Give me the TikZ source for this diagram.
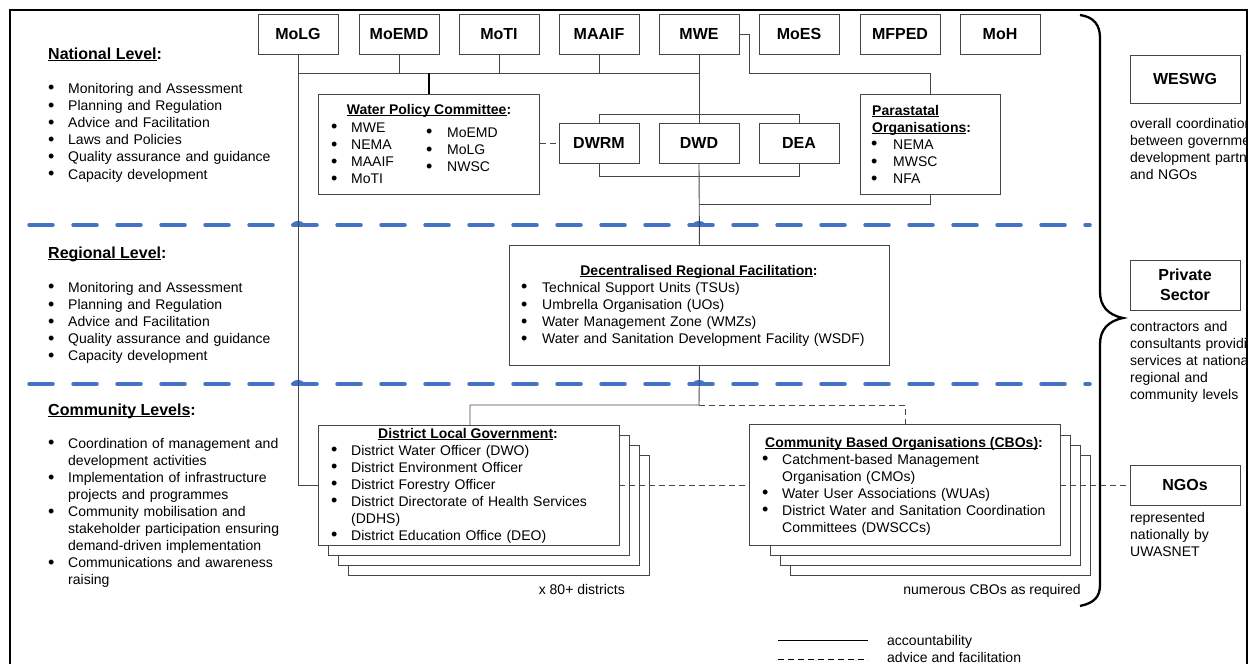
\documentclass[tikz,border=0pt]{standalone}
\usepackage{fontspec}
\setmainfont{Liberation Sans}
\definecolor{lvlblue}{RGB}{68,114,196}
\definecolor{linegray}{RGB}{70,70,70}
\newcommand{\bdot}{\raisebox{-0.9pt}{\fontsize{18}{0}\selectfont\textbullet}}
\newcommand{\bitem}[2][20pt]{\makebox[#1][l]{\bdot}#2}
\newcommand{\bcont}[2][20pt]{\hspace*{#1}#2}
\newcommand{\myul}[1]{\leavevmode\setbox0\hbox{#1}\rlap{\rule[-2.2pt]{\wd0}{1pt}}\box0}
\tikzset{
  box/.style={draw=linegray, line width=0.9pt, fill=white, inner sep=0pt},
  ministry/.style={box, minimum width=80pt, minimum height=40pt, font=\fontsize{16}{19}\selectfont\bfseries},
  conn/.style={draw=linegray, line width=0.9pt},
  thickconn/.style={draw=black, line width=1.8pt},
  advice/.style={draw=linegray, line width=0.9pt, dash pattern=on 6pt off 4pt},
  lvlline/.style={draw=lvlblue, line width=3.5pt, line cap=round, dash pattern=on 24pt off 20pt},
  hop/.style={draw=lvlblue, line width=2.2pt, line cap=round},
  lst/.style={inner sep=0pt, anchor=base west, font=\fontsize{14}{17.1}\selectfont, text width=#1, align=left},
  ttl/.style={inner sep=0pt, anchor=base, font=\fontsize{14}{17}\selectfont\bfseries},
  lvltitle/.style={inner sep=0pt, anchor=base west, font=\fontsize{16}{19}\selectfont\bfseries},
  plain/.style={inner sep=0pt, font=\fontsize{14}{17}\selectfont},
}
\begin{document}
\begin{tikzpicture}[x=1pt,y=-1pt]
\useasboundingbox (0,0) rectangle (1250,664);

% level separators (blue dashed)
\coordinate (s1a) at (29,225); \coordinate (s1b) at (1090,225);
\coordinate (s2a) at (29,384); \coordinate (s2b) at (1090,384);
\draw[lvlline] (s1a) -- (s1b);
\draw[lvlline] (s2a) -- (s2b);
\foreach \xx/\yy in {298/225,699/225,298/384,699/384}{
  \draw[hop] (\xx-6,\yy) .. controls (\xx-3,\yy-4) and (\xx+3,\yy-4) .. (\xx+6,\yy);
}

% level headings
\node[lvltitle] (natt) at (48,59) {\myul{National Level}:};
\node[lst=260pt, font=\fontsize{14}{17.2}\selectfont] (natl) at (48,93) {\bitem{Monitoring and Assessment}\\
\bitem{Planning and Regulation}\\
\bitem{Advice and Facilitation}\\
\bitem{Laws and Policies}\\
\bitem{Quality assurance and guidance}\\
\bitem{Capacity development}};

\node[lvltitle] (regt) at (48,258) {\myul{Regional Level}:};
\node[lst=260pt, font=\fontsize{14}{17.2}\selectfont] (regl) at (48,292) {\bitem{Monitoring and Assessment}\\
\bitem{Planning and Regulation}\\
\bitem{Advice and Facilitation}\\
\bitem{Quality assurance and guidance}\\
\bitem{Capacity development}};

\node[lvltitle] (comt) at (48,415) {\myul{Community Levels}:};
\node[lst=270pt] (coml) at (48,448) {\bitem{Coordination of management and}\\
\bcont{development activities}\\
\bitem{Implementation of infrastructure}\\
\bcont{projects and programmes}\\
\bitem{Community mobilisation and}\\
\bcont{stakeholder participation ensuring}\\
\bcont{demand-driven implementation}\\
\bitem{Communications and awareness}\\
\bcont{raising}};

% ministries
\node[ministry] (molg)  at (298,34) {MoLG};
\node[ministry] (moemd) at (399,34) {MoEMD};
\node[ministry] (moti)  at (499,34) {MoTI};
\node[ministry] (maaif) at (599,34) {MAAIF};
\node[ministry] (mwe)   at (699,34) {MWE};
\node[ministry] (moes)  at (799,34) {MoES};
\node[ministry] (mfped) at (900,34) {MFPED};
\node[ministry] (moh)   at (1000,34) {MoH};

% directorates
\node[ministry] (dwrm) at (599,143) {DWRM};
\node[ministry] (dwd)  at (699,143) {DWD};
\node[ministry] (dea)  at (799,143) {DEA};

% water policy committee
\node[box, minimum width=221pt, minimum height=100pt, anchor=north west] (wpc) at (318,94) {};
\node[ttl] (wpct) at (429,114) {\myul{Water Policy Committee}:};
\node[lst=90pt] (wpcl) at (331,132) {\bitem{MWE}\\ \bitem{NEMA}\\ \bitem{MAAIF}\\ \bitem{MoTI}};
\node[lst=90pt] (wpcr) at (426,137) {\bitem[21pt]{MoEMD}\\ \bitem[21pt]{MoLG}\\ \bitem[21pt]{NWSC}};

% parastatals
\node[box, minimum width=140pt, minimum height=100pt, anchor=north west] (para) at (860,94) {};
\node[lst=125pt, font=\fontsize{14}{17}\selectfont\bfseries] (parat) at (872,115) {\myul{Parastatal}\\ \myul{Organisations}:};
\node[lst=125pt] (paral) at (871,149) {\bitem[22pt]{NEMA}\\ \bitem[22pt]{MWSC}\\ \bitem[22pt]{NFA}};

% decentralised regional facilitation
\node[box, minimum width=380pt, minimum height=120pt, anchor=north west] (drf) at (509,245) {};
\node[ttl] (drft) at (699,275) {\myul{Decentralised Regional Facilitation}:};
\node[lst=360pt] (drfl) at (521,292) {\bitem[21pt]{Technical Support Units (TSUs)}\\
\bitem[21pt]{Umbrella Organisation (UOs)}\\
\bitem[21pt]{Water Management Zone (WMZs)}\\
\bitem[21pt]{Water and Sanitation Development Facility (WSDF)}};

% district local government stack
\node[box, minimum width=301pt, minimum height=120pt, anchor=north west] (dlg3) at (348,455) {};
\node[box, minimum width=301pt, minimum height=120pt, anchor=north west] (dlg2) at (338,445) {};
\node[box, minimum width=301pt, minimum height=120pt, anchor=north west] (dlg1) at (328,435) {};
% CBO stack
\node[box, minimum width=300pt, minimum height=120pt, anchor=north west] (cbo3) at (790,455) {};
\node[box, minimum width=300pt, minimum height=120pt, anchor=north west] (cbo2) at (780,445) {};
\node[box, minimum width=300pt, minimum height=120pt, anchor=north west] (cbo1) at (770,435) {};

% right column boxes
\node[box, minimum width=110pt, minimum height=48pt, font=\fontsize{16}{19}\selectfont\bfseries] (weswg) at (1185,79) {WESWG};
\node[box, minimum width=110pt, minimum height=50pt, align=center, font=\fontsize{16}{20}\selectfont\bfseries] (priv) at (1185,285) {Private\\Sector};
\node[box, minimum width=110pt, minimum height=40pt, font=\fontsize{16}{19}\selectfont\bfseries] (ngos) at (1185,485) {NGOs};

% advice lines crossing the stacks
\coordinate (adv1) at (905,405);
\draw[advice] (619,485) -- (749,485);
\draw[advice] (1060,485) -- (ngos.west);

% front boxes
\node[box, minimum width=301pt, minimum height=120pt, anchor=north west] (dlg) at (318,425) {};
\node[ttl] (dlgt) at (468,438) {\myul{District Local Government}:};
\node[lst=290pt, font=\fontsize{14}{17}\selectfont] (dlgl) at (331,455) {\bitem{District Water Officer (DWO)}\\
\bitem{District Environment Officer}\\
\bitem{District Forestry Officer}\\
\bitem{District Directorate of Health Services}\\
\bcont{(DDHS)}\\
\bitem{District Education Office (DEO)}};

\node[box, minimum width=311pt, minimum height=121pt, anchor=north west] (cbo) at (749,424) {};
\node[ttl] (cbot) at (904,447) {\myul{Community Based Organisations (CBOs)}:};
\node[lst=300pt, font=\fontsize{14}{17}\selectfont] (cbol) at (762,464) {\bitem{Catchment-based Management}\\
\bcont{Organisation (CMOs)}\\
\bitem{Water User Associations (WUAs)}\\
\bitem{District Water and Sanitation Coordination}\\
\bcont{Committees (DWSCCs)}};

\node[plain, anchor=base east] (dlgn) at (625,594) {x 80+ districts};
\node[plain, anchor=base east] (cbon) at (1081,594) {numerous CBOs as required};

% connectors (accountability)
\coordinate (j1) at (298,73);
\coordinate (j2) at (699,73);
\coordinate (jw) at (429,73);
\draw[conn] (molg.south) -- (j1) -- (j2);
\draw[conn] (moemd.south) -- (moemd.south |- j1);
\draw[conn] (moti.south) -- (moti.south |- j1);
\draw[conn] (maaif.south) -- (maaif.south |- j1);
\draw[thickconn] (jw) -- (wpc.north -| jw);
\draw[conn] (mwe.south) -- (dwd.north);
\draw[conn] (dwd.south) -- (drf.north);
\draw[conn] (mwe.east) -| (749,73) -| (para.north -| 930,0);
\draw[conn] (para.south -| 930,0) |- (699,204);
\draw[conn] (dwrm.north) |- (599,114) -| (dea.north);
\draw[conn] (dwrm.south) |- (599,176) -| (dea.south);
\draw[conn] (j1) |- (dlg.west |- 0,485);
\coordinate (j3) at (699,405);
\draw[conn] (drf.south) -- (j3) -- (470,405) -- (dlg.north -| 470,0);
\draw[advice] (j3) -- (adv1) -- (cbo.north -| adv1);
\draw[advice] (wpc.east |- 0,143) -- (dwrm.west);

% brace
\draw[line width=2.3pt] (1080,15) .. controls (1094,17) and (1100,25) .. (1100,38) -- (1100,292)
  .. controls (1100,306) and (1108,315) .. (1123,318)
  .. controls (1108,321) and (1100,330) .. (1100,344) -- (1100,585)
  .. controls (1100,597) and (1094,603) .. (1080,606);

% right column descriptions (cut by the frame, as in the reference)
\begin{scope}
\clip (1120,0) rectangle (1246,664);
\node[lst=200pt, font=\fontsize{14}{17}\selectfont] (wesd) at (1130,128) {overall coordination\\ between government,\\ development partners\\ and NGOs};
\node[lst=200pt, font=\fontsize{14}{17}\selectfont] (privd) at (1130,331) {contractors and\\ consultants providing\\ services at national,\\ regional and\\ community levels};
\node[lst=200pt, font=\fontsize{14}{17}\selectfont] (ngod) at (1130,522) {represented\\ nationally by\\ UWASNET};
\end{scope}

% legend
\coordinate (la1) at (778,640); \coordinate (la2) at (868,640);
\coordinate (lb1) at (778,659); \coordinate (lb2) at (868,659);
\draw[line width=0.9pt, black] (la1) -- (la2);
\draw[line width=0.9pt, black, dash pattern=on 6pt off 4pt] (lb1) -- (lb2);
\node[plain, anchor=base west] (lga) at (887,645) {accountability};
\node[plain, anchor=base west] (lgb) at (887,662) {advice and facilitation};

% frame
\draw[line width=2.6pt] (10,664) -- (10,10) -- (1247,10) -- (1247,664);
\end{tikzpicture}
\end{document}
